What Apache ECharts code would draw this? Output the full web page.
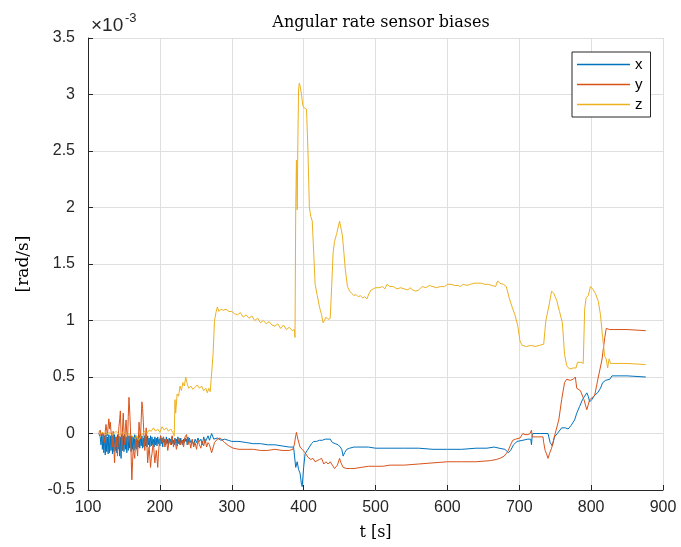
<!DOCTYPE html>
<html>
<head>
<meta charset="utf-8">
<script src="https://cdn.jsdelivr.net/npm/echarts@6/dist/echarts.min.js"></script>
<style>
  html, body { margin: 0; padding: 0; background: #fff; }
  #chart { width: 681px; height: 547px; }
</style>
</head>
<body>
<div id="chart"></div>
<script>
// Gyro bias estimates, values in units of 1e-3 rad/s, time in seconds.
const biasX = [
  [115,0.0],[116,-0.01],[117,-0.03],[118,-0.1],[119,-0.01],[120,-0.14],[121,0.0],[122,-0.17],
  [123,-0.02],[124,-0.19],[125,0.0],[126,-0.16],[127,-0.03],[128,-0.18],[129,-0.01],[130,-0.17],
  [131,-0.02],[132,-0.15],[133,0.0],[134,-0.18],[135,-0.02],[136,-0.16],[137,-0.01],[138,-0.15],
  [139,-0.03],[140,-0.17],[141,-0.01],[142,-0.14],[143,-0.02],[144,-0.2],[145,-0.03],[146,-0.22],
  [147,-0.01],[148,-0.15],[149,-0.02],[150,-0.16],[151,0.0],[152,-0.14],[153,-0.03],[154,-0.17],
  [155,-0.01],[156,-0.15],[157,-0.02],[158,-0.13],[159,0.0],[160,-0.16],[161,-0.02],[162,-0.14],
  [163,-0.03],[164,-0.15],[165,-0.01],[166,-0.13],[167,-0.02],[168,-0.14],[169,-0.03],[170,-0.12],
  [171,-0.01],[172,-0.13],[173,-0.03],[174,-0.11],[175,-0.02],[176,-0.13],[177,-0.04],[178,-0.12],
  [179,-0.02],[180,-0.11],[181,-0.03],[182,-0.12],[183,-0.02],[184,-0.1],[185,-0.04],[186,-0.12],
  [187,-0.02],[188,-0.11],[189,-0.03],[190,-0.1],[191,-0.05],[192,-0.12],[193,-0.03],[194,-0.1],
  [195,-0.04],[196,-0.11],[197,-0.03],[198,-0.09],[199,-0.05],[200,-0.11],[201,-0.02],[202,-0.09],
  [203,-0.04],[204,-0.12],[205,-0.03],[206,-0.08],[207,-0.05],[208,-0.1],[209,-0.03],[210,-0.09],
  [211,-0.05],[212,-0.1],[213,-0.04],[214,-0.08],[215,-0.05],[216,-0.1],[217,-0.03],[218,-0.09],
  [219,-0.06],[220,-0.1],[221,-0.04],[222,-0.08],[223,-0.05],[224,-0.11],[225,-0.03],[226,-0.09],
  [227,-0.06],[228,-0.1],[229,-0.04],[230,-0.08],[231,-0.06],[232,-0.1],[233,-0.05],[234,-0.08],
  [235,-0.04],[236,-0.07],[237,-0.05],[238,-0.1],[239,-0.03],[240,-0.08],
  [241,-0.04],[243,-0.08],[245,-0.06],[247,-0.1],[249,-0.05],[251,-0.08],[253,-0.04],[255,-0.07],
  [257,-0.05],[259,-0.1],[261,-0.03],[263,-0.08],[265,-0.05],[267,-0.02],[269,-0.06],
  [272,0.0],[275,-0.05],[280,-0.04],[285,-0.06],[290,-0.05],[295,-0.06],[300,-0.07],[310,-0.07],
  [320,-0.08],[330,-0.09],[340,-0.09],[350,-0.1],[360,-0.1],[370,-0.11],[380,-0.12],[386,-0.12],
  [388,-0.13],[389,-0.3],[391,-0.25],[393,-0.32],[395,-0.35],[397,-0.45],[398,-0.47],[400,-0.3],
  [402,-0.18],[405,-0.15],[408,-0.12],[411,-0.09],[414,-0.07],[418,-0.07],[422,-0.06],[426,-0.06],
  [430,-0.05],[434,-0.05],[437,-0.05],[440,-0.08],[444,-0.09],[448,-0.1],[451,-0.12],[453,-0.14],
  [455,-0.2],[457,-0.17],[460,-0.14],[464,-0.13],[470,-0.12],[480,-0.12],[490,-0.12],[500,-0.13],
  [520,-0.13],[540,-0.13],[560,-0.13],[580,-0.14],[600,-0.14],[620,-0.14],[640,-0.13],[655,-0.13],
  [665,-0.12],[672,-0.13],[680,-0.14],[685,-0.17],[688,-0.15],[692,-0.1],[697,-0.07],[705,-0.06],
  [712,-0.05],[716,-0.05],[717,-0.1],[718,-0.02],[719,0.0],[730,0.0],[740,0.0],[743,-0.08],
  [746,-0.11],[749,-0.03],[753,0.0],[759,0.05],[764,0.05],[768,0.04],[772,0.07],[777,0.12],
  [780,0.18],[784,0.24],[788,0.3],[791,0.33],[794,0.36],[796,0.33],[798,0.28],[801,0.3],
  [805,0.34],[809,0.36],[813,0.4],[816,0.45],[820,0.47],[826,0.48],[829,0.51],[850,0.51],[876,0.5]
];

const biasY = [
  [115,0.0],[116,0.01],[117,0.03],[118,-0.02],[119,-0.03],[120,0.01],[121,0.02],[122,-0.04],
  [123,-0.08],[124,0.02],[125,0.08],[126,0.03],[127,-0.02],[128,0.06],[129,0.13],[130,0.04],
  [131,0.1],[132,0.02],[133,-0.05],[134,-0.12],[135,0.02],[136,-0.15],[137,-0.26],[138,-0.08],
  [139,-0.12],[140,-0.03],[141,-0.2],[142,-0.05],[143,0.06],[144,0.12],[145,0.2],[146,0.0],
  [147,-0.15],[148,0.04],[149,0.18],[150,0.02],[151,-0.1],[152,0.06],[153,0.12],[154,0.0],
  [155,-0.08],[156,0.15],[157,0.32],[158,0.2],[159,0.05],[160,-0.2],[161,-0.41],[162,-0.25],
  [163,-0.12],[164,-0.18],[165,-0.22],[166,-0.1],[167,-0.05],[168,-0.12],[169,-0.2],[170,-0.05],
  [171,0.1],[172,0.02],[173,-0.05],[174,0.12],[175,0.28],[176,0.22],[177,0.1],[178,-0.05],
  [179,-0.15],[180,-0.02],[181,0.05],[182,-0.1],[183,-0.26],[184,-0.18],[185,-0.12],[186,-0.2],
  [187,-0.3],[188,-0.22],[189,-0.18],[190,-0.12],[191,-0.08],[192,-0.18],[193,-0.26],[194,-0.2],
  [195,-0.15],[196,-0.22],[197,-0.3],[198,-0.18],[199,-0.1],[200,-0.05],
  [201,-0.02],[203,-0.08],[205,-0.03],[207,-0.12],[209,-0.05],
  [211,-0.15],[213,-0.06],[215,-0.1],[217,-0.02],[219,-0.12],[221,-0.05],[223,-0.14],[225,-0.08],
  [227,-0.04],[229,-0.1],[231,-0.06],[233,-0.12],[235,-0.03],[237,-0.01],[239,-0.1],[241,-0.06],
  [243,-0.13],[245,-0.05],[247,-0.12],[249,-0.08],[251,-0.14],[253,-0.06],[255,-0.1],[257,-0.13],
  [259,-0.07],[261,-0.11],[263,-0.05],[265,-0.12],[267,-0.08],[269,-0.1],
  [272,-0.17],[276,-0.08],[280,-0.05],[284,-0.04],[290,-0.08],[296,-0.11],[302,-0.13],[310,-0.14],
  [320,-0.14],[330,-0.14],[340,-0.15],[350,-0.15],[360,-0.14],[370,-0.15],[380,-0.15],[385,-0.14],
  [387,-0.1],[389,-0.02],[390,0.01],[392,-0.05],[395,-0.12],[398,-0.14],[402,-0.17],[406,-0.21],
  [410,-0.23],[413,-0.22],[416,-0.25],[419,-0.24],[422,-0.23],[425,-0.22],[428,-0.27],[431,-0.25],
  [434,-0.27],[437,-0.25],[440,-0.28],[443,-0.31],[447,-0.28],[450,-0.22],[452,-0.26],[455,-0.3],
  [460,-0.31],[465,-0.31],[470,-0.31],[480,-0.3],[490,-0.29],[500,-0.29],[510,-0.29],[520,-0.28],
  [540,-0.28],[560,-0.27],[580,-0.26],[600,-0.25],[620,-0.25],[640,-0.25],[660,-0.24],[668,-0.23],
  [673,-0.22],[679,-0.2],[684,-0.16],[688,-0.1],[691,-0.06],[695,-0.05],[701,-0.04],[705,0.0],
  [708,-0.01],[712,-0.01],[715,0.0],[717,0.03],[718,-0.03],[725,-0.03],[733,-0.03],[734,-0.08],
  [736,-0.15],[738,-0.18],[740,-0.22],[742,-0.18],[745,-0.13],[750,0.0],[755,0.12],[759,0.3],
  [763,0.45],[766,0.48],[771,0.47],[775,0.48],[778,0.5],[780,0.4],[785,0.38],[790,0.3],
  [794,0.21],[798,0.3],[802,0.32],[805,0.34],[810,0.5],[815,0.65],[819,0.85],[821,0.93],
  [826,0.92],[850,0.92],[876,0.91]
];

const biasZ = [
  [115,0.02],[118,0.0],[121,0.01],[124,-0.01],[127,0.0],[130,0.01],[133,-0.01],[136,0.0],
  [139,0.02],[142,0.0],[145,-0.01],[148,0.01],[151,0.0],[154,-0.02],[157,0.0],[160,-0.02],
  [163,-0.03],[166,-0.05],[168,-0.02],[170,-0.06],[173,-0.03],[176,0.0],[179,0.02],[182,0.0],
  [185,0.03],[188,0.02],[191,0.05],[194,0.02],[197,0.04],[200,0.01],[203,0.06],[206,0.03],
  [209,0.05],[212,0.02],[215,0.04],[218,0.01],[220,-0.02],[221,0.3],[222,0.18],[224,0.35],
  [226,0.33],[228,0.42],[230,0.38],[232,0.45],[234,0.42],[236,0.5],[238,0.44],[240,0.4],
  [243,0.42],[246,0.39],[249,0.41],[252,0.43],[255,0.4],[258,0.42],[261,0.38],[264,0.4],
  [266,0.36],[268,0.4],[270,0.37],[272,0.36],[274,0.7],[276,1.0],[278,1.07],[280,1.12],
  [282,1.08],[285,1.1],[288,1.09],[292,1.1],[296,1.08],[300,1.08],[304,1.06],[308,1.05],
  [312,1.07],[316,1.03],[320,1.05],[324,1.02],[328,1.04],[332,1.0],[336,1.02],[340,0.98],
  [344,1.0],[348,0.97],[352,0.99],[356,0.96],[360,0.95],[364,0.97],[368,0.93],[372,0.96],
  [376,0.92],[380,0.94],[384,0.91],[387,0.92],[388,0.85],[389,2.0],[390,2.42],[391,1.98],
  [392,2.6],[393,3.05],[394,3.1],[395,3.08],[397,3.0],[399,2.9],[401,2.88],[404,2.87],
  [406,2.5],[408,2.0],[410,1.92],[412,1.88],[414,1.6],[416,1.32],[419,1.22],[422,1.12],
  [425,1.05],[427,0.98],[429,1.0],[431,1.03],[434,1.01],[437,1.02],[439,1.3],[441,1.6],
  [443,1.7],[446,1.77],[448,1.78],[450,1.88],[452,1.87],[454,1.75],[456,1.6],[458,1.45],
  [461,1.3],[464,1.26],[467,1.24],[470,1.22],[473,1.23],[476,1.21],[479,1.22],[482,1.2],
  [485,1.21],[488,1.19],[491,1.24],[494,1.27],[497,1.28],[500,1.29],[505,1.29],[510,1.3],
  [513,1.28],[516,1.32],[520,1.3],[525,1.3],[530,1.28],[535,1.29],[540,1.28],[545,1.27],
  [548,1.29],[552,1.27],[556,1.26],[560,1.27],[565,1.3],[570,1.29],[575,1.31],[580,1.3],
  [585,1.29],[590,1.3],[596,1.3],[600,1.32],[605,1.32],[610,1.31],[615,1.31],[618,1.3],
  [622,1.32],[627,1.31],[632,1.32],[637,1.33],[642,1.33],[647,1.33],[652,1.32],[657,1.32],
  [662,1.31],[667,1.3],[670,1.35],[673,1.33],[678,1.32],[682,1.3],[686,1.2],[690,1.12],
  [694,1.05],[698,0.95],[701,0.82],[704,0.78],[710,0.77],[716,0.78],[722,0.77],[728,0.78],
  [734,0.79],[737,1.0],[741,1.12],[745,1.26],[748,1.24],[752,1.18],[756,1.08],[760,0.98],
  [763,0.7],[766,0.6],[770,0.57],[775,0.58],[779,0.58],[781,0.63],[786,0.63],[789,0.62],
  [791,1.1],[793,1.2],[796,1.22],[799,1.3],[802,1.28],[806,1.24],[810,1.17],[813,1.05],
  [816,0.85],[819,0.68],[821,0.66],[823,0.58],[825,0.66],[827,0.62],[830,0.62],[850,0.62],
  [876,0.61]
];

const seriesNames = ['x', 'y', 'z'];
const seriesColors = ['#0072BD', '#D95319', '#EDB120'];
const xTicks = { min: 100, max: 900, step: 100 };
const yTicks = { min: -0.5, max: 3.5, step: 0.5 };

const chart = echarts.init(document.getElementById('chart'), null, { renderer: 'canvas' });

const axisColor = '#262626';
const gridColor = '#dfdfdf';
const sansFont = '"Liberation Sans", Arial, Helvetica, sans-serif';
const serifFont = '"DejaVu Serif", "Liberation Serif", serif';

chart.setOption({
  animation: false,
  backgroundColor: '#ffffff',
  color: seriesColors,
  title: {
    text: 'Angular rate sensor biases',
    left: 376,
    textAlign: 'center',
    top: 10,
    textStyle: { fontFamily: serifFont, fontWeight: 'normal', fontSize: 16, color: '#000' }
  },
  grid: { left: 88, right: 18, top: 38, bottom: 57, containLabel: false },
  legend: {
    orient: 'vertical',
    left: 572,
    top: 52,
    padding: [5, 8, 5, 5],
    itemGap: 5,
    itemWidth: 53,
    itemHeight: 1.5,
    icon: 'rect',
    borderColor: axisColor,
    borderWidth: 1,
    borderRadius: 0,
    backgroundColor: '#fff',
    textStyle: { fontFamily: sansFont, fontSize: 15, lineHeight: 14, color: '#000' },
    data: seriesNames
  },
  xAxis: {
    type: 'value',
    min: xTicks.min,
    max: xTicks.max,
    interval: xTicks.step,
    name: 't [s]',
    nameLocation: 'middle',
    nameGap: 35,
    nameTextStyle: { fontFamily: serifFont, fontSize: 16, color: '#000' },
    axisLine: { show: true, onZero: false, lineStyle: { color: axisColor, width: 1 } },
    axisTick: { show: true, inside: true, length: 5, lineStyle: { color: axisColor } },
    axisLabel: { margin: 10, fontFamily: sansFont, fontSize: 16, color: axisColor },
    splitLine: { show: true, lineStyle: { color: gridColor, width: 1 } }
  },
  yAxis: {
    type: 'value',
    min: yTicks.min,
    max: yTicks.max,
    interval: yTicks.step,
    name: '[rad/s]',
    nameLocation: 'middle',
    nameGap: 56,
    nameRotate: 90,
    nameTextStyle: { fontFamily: serifFont, fontSize: 17, color: '#000' },
    axisLine: { show: true, onZero: false, lineStyle: { color: axisColor, width: 1 } },
    axisTick: { show: true, inside: true, length: 5, lineStyle: { color: axisColor } },
    axisLabel: { margin: 13, fontFamily: sansFont, fontSize: 16, color: axisColor },
    splitLine: { show: true, lineStyle: { color: gridColor, width: 1 } }
  },
  graphic: [
    {
      type: 'text',
      left: 91,
      top: 16,
      style: { text: '×10', fontFamily: sansFont, fontSize: 19, fill: axisColor }
    },
    {
      type: 'text',
      left: 125,
      top: 12,
      style: { text: '-3', fontFamily: sansFont, fontSize: 13, fill: axisColor }
    }
  ],
  series: [
    { name: 'x', type: 'line', data: biasX, symbol: 'none', showSymbol: false, lineStyle: { width: 1 }, z: 3 },
    { name: 'y', type: 'line', data: biasY, symbol: 'none', showSymbol: false, lineStyle: { width: 1 }, z: 4 },
    { name: 'z', type: 'line', data: biasZ, symbol: 'none', showSymbol: false, lineStyle: { width: 1 }, z: 5 }
  ]
});
</script>
</body>
</html>
